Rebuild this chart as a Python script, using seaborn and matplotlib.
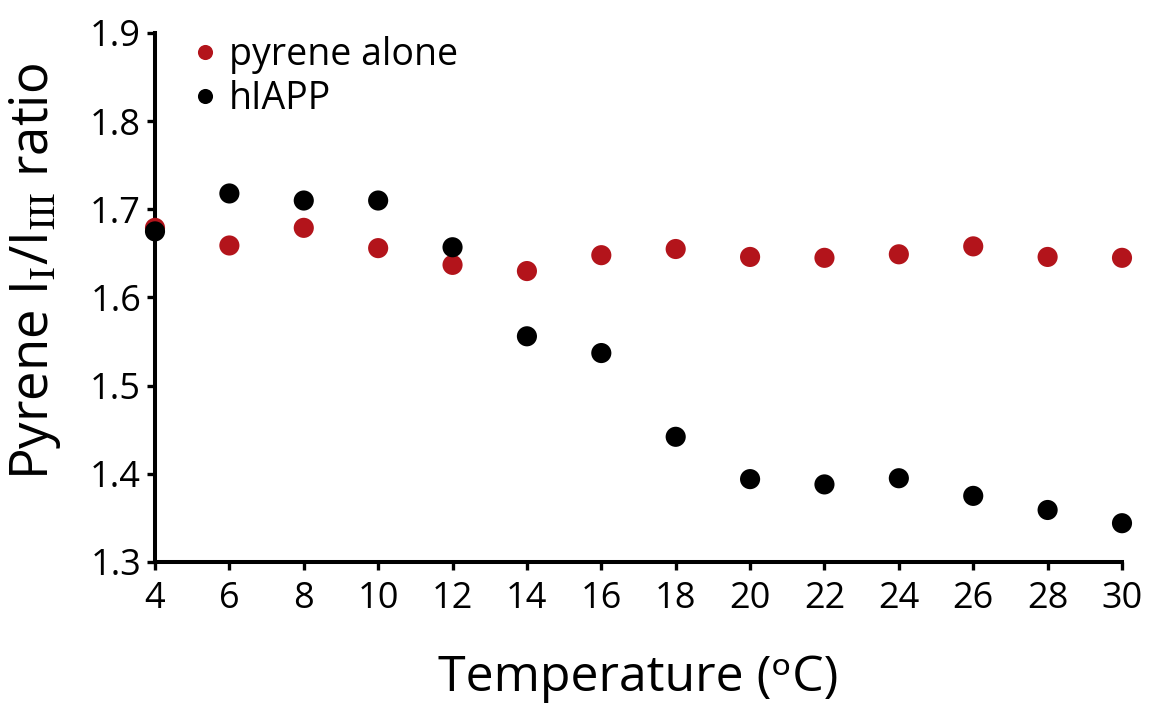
import matplotlib
matplotlib.use("Agg")
import matplotlib.pyplot as plt
import seaborn as sns
import pandas as pd

temperature = [4, 6, 8, 10, 12, 14, 16, 18, 20, 22, 24, 26, 28, 30]
pyrene_alone = [1.679, 1.659, 1.679, 1.656, 1.637, 1.630, 1.648, 1.655,
                1.646, 1.645, 1.649, 1.658, 1.646, 1.645]
hiapp = [1.675, 1.718, 1.710, 1.710, 1.657, 1.556, 1.537, 1.442,
         1.394, 1.388, 1.395, 1.375, 1.359, 1.344]
series_names = ["pyrene alone", "hIAPP"]
colors = ["#b3141b", "#000000"]
x_ticks = [4, 6, 8, 10, 12, 14, 16, 18, 20, 22, 24, 26, 28, 30]
y_ticks = [1.3, 1.4, 1.5, 1.6, 1.7, 1.8, 1.9]

df = pd.DataFrame({
    "Temperature": temperature * 2,
    "Ratio": pyrene_alone + hiapp,
    "Series": [series_names[0]] * len(temperature) + [series_names[1]] * len(temperature),
})

sns.set_theme(style="ticks")
plt.rcParams["font.family"] = ["Open Sans", "DejaVu Sans"]
plt.rcParams["mathtext.fontset"] = "stix"
plt.rcParams["text.color"] = "black"

fig = plt.figure(figsize=(11.55, 7.04), dpi=100)
ax = fig.add_axes([155 / 1155, 1 - 562 / 704, (1122 - 155) / 1155, (562 - 33) / 704])

sns.scatterplot(data=df, x="Temperature", y="Ratio", hue="Series",
                hue_order=series_names, palette=dict(zip(series_names, colors)),
                s=210, linewidth=0, clip_on=False, ax=ax, zorder=3)

ax.set_xlim(4, 30)
ax.set_ylim(1.3, 1.9)
ax.set_xticks(x_ticks)
ax.set_xticklabels([str(t) for t in x_ticks])
ax.set_yticks(y_ticks)
ax.set_yticklabels([f"{t:.1f}" for t in y_ticks])

for side in ["top", "right"]:
    ax.spines[side].set_visible(False)
for side in ["left", "bottom"]:
    ax.spines[side].set_linewidth(2.9)
    ax.spines[side].set_color("black")
ax.tick_params(axis="both", direction="out", length=6, width=2.4, color="black",
               labelsize=26, labelcolor="black")
ax.tick_params(axis="x", pad=8)
ax.tick_params(axis="y", pad=4)

ax.set_xlabel("Temperature (\u1d52C)", fontsize=36, labelpad=26, color="black")
ax.set_ylabel(r"Pyrene I$_{\mathrm{I}}$/I$_{\mathrm{III}}$ ratio", fontsize=38, color="black")
ax.yaxis.set_label_coords(-0.095, 0.55)

handles, labels = ax.get_legend_handles_labels()
leg = ax.legend(handles, labels, loc="upper left", bbox_to_anchor=(0.036, 0.995),
                frameon=False, fontsize=27, handlelength=0.8, handletextpad=0.25,
                labelspacing=0.18, borderaxespad=0, borderpad=0, markerscale=0.75)
for t in leg.get_texts():
    t.set_color("black")

fig.savefig("out.png", dpi=100)
